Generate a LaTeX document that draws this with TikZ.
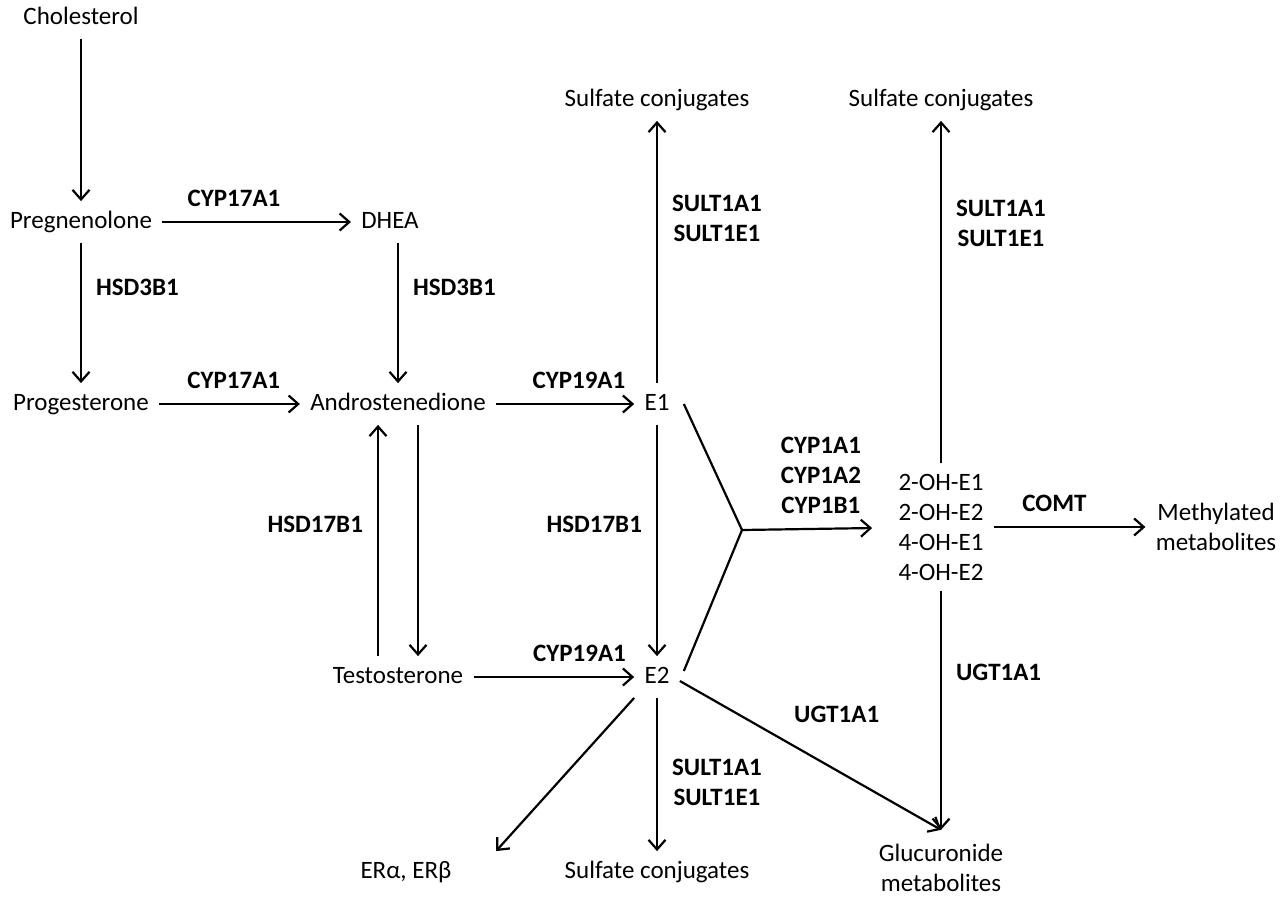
\documentclass[tikz,border=0pt]{standalone}
\usepackage{fontspec}
\setmainfont{Carlito}
\usetikzlibrary{arrows.meta,positioning}

\begin{document}
\begin{tikzpicture}[x=0.5pt, y=-0.5pt, auto,
  font=\fontsize{12.5}{15}\selectfont,
  every node/.style={inner sep=5pt, align=center},
  mol/.style={text height=1.75ex, text depth=.45ex},
  enz/.style={font=\fontsize{12.5}{15}\selectfont\bfseries, inner sep=7pt},
  rxn/.style={-{Straight Barb[length=4.8pt,width=8.5pt]}, line width=1.1pt}]
\useasboundingbox (0,0) rectangle (1283,897);
% metabolites
\node [mol] (chol) at (81,18) {Cholesterol};
\node [mol] (preg) at (81,222) {Pregnenolone};
\node [mol] (dhea) at (390,222) {DHEA};
\node [mol] (prog) at (81,404) {Progesterone};
\node [mol] (andro) at (398,404) {Androstenedione};
\node [mol] (testo) at (398,677) {Testosterone};
\node [mol] (e1) at (657,404) {E1};
\node [mol] (e2) at (657,677) {E2};
\node [mol] (sulf1) at (657,100) {Sulfate conjugates};
\node [mol] (sulf2) at (941,100) {Sulfate conjugates};
\node [mol] (sulf3) at (657,872) {Sulfate conjugates};
\node [mol] (era) at (406,872) {ERα, ERβ};
\node (stack) at (941,527) {2-OH-E1\\2-OH-E2\\4-OH-E1\\4-OH-E2};
\node (meth) at (1216,527) {Methylated\\metabolites};
\node (gluc) at (941,868) {Glucuronide\\metabolites};
\coordinate (junc) at (742,530);
% reactions
\path [rxn]
(chol) edge (preg)
(preg) edge node [enz, pos=.38] {CYP17A1} (dhea)
       edge node [enz, pos=.32] {HSD3B1} (prog)
(dhea.south -| andro) edge node [enz, pos=.32] {HSD3B1} (andro)
(prog) edge node [enz, pos=.53] {CYP17A1} (andro)
(andro) edge node [enz, pos=.6] {CYP19A1} (e1)
([xshift=-10pt]testo.north) edge node [enz, pos=.57] {HSD17B1} ([xshift=-10pt]andro.south)
([xshift=10pt]andro.south) edge ([xshift=10pt]testo.north)
(e1) edge node [enz, swap, pos=.63] {SULT1A1\\SULT1E1} (sulf1)
     edge node [enz, swap, pos=.43] {HSD17B1} (e2)
(testo) edge node [enz, pos=.66] {CYP19A1} (e2)
(e2) edge node [enz, pos=.55] {SULT1A1\\SULT1E1} (sulf3)
([yshift=-2pt]e2.east) edge node [enz, pos=.38] {UGT1A1} ([yshift=2pt]gluc.north)
(e2.south west) edge ([xshift=45pt]era.north)
(junc) edge [shorten >=8pt] node [enz, pos=.54] {CYP1A1\\CYP1A2\\CYP1B1} (stack)
(stack) edge node [enz, swap, pos=.7] {SULT1A1\\SULT1E1} (sulf2)
        edge node [enz, pos=.34] {UGT1A1} ([yshift=2pt]gluc.north)
        edge node [enz, pos=.4] {COMT} (meth);
\draw [line width=1.1pt] ([xshift=2pt]e1.east) -- (junc) -- ([xshift=2pt, yshift=3pt]e2.east);
\end{tikzpicture}
\end{document}
